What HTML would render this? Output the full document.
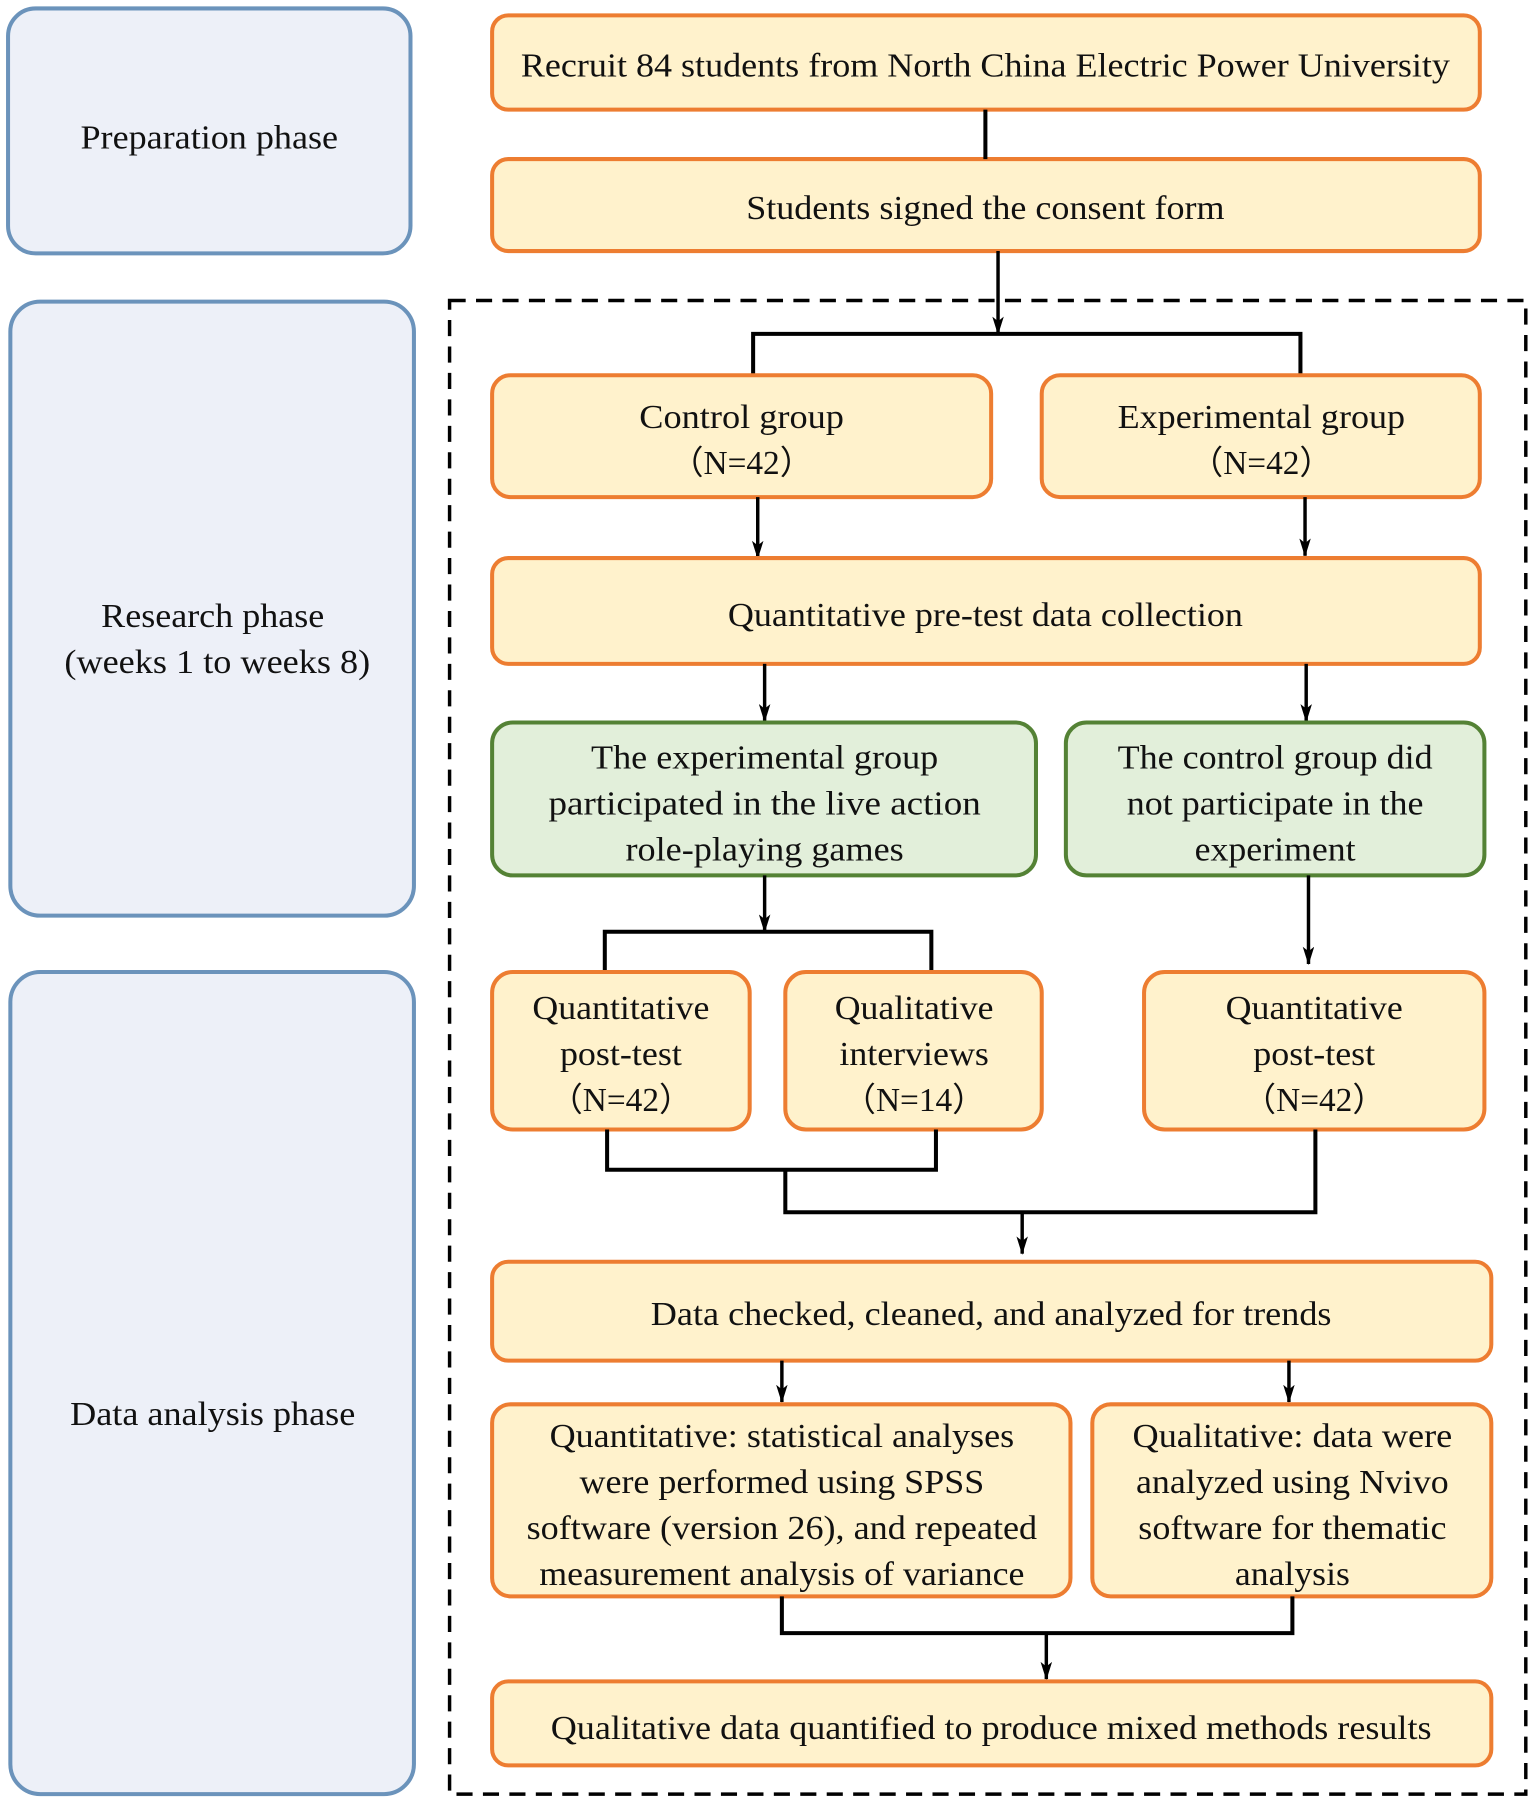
<!DOCTYPE html>
<html><head><meta charset="utf-8"><style>html,body{margin:0;padding:0;background:#fff}svg{display:block}</style></head>
<body>
<svg width="1535" height="1806" viewBox="0 0 1335 1570" xmlns="http://www.w3.org/2000/svg">
<defs><marker id="a" viewBox="0 0 16 10" refX="15" refY="5" markerWidth="16" markerHeight="10" orient="auto" markerUnits="userSpaceOnUse"><path d="M0,0 L16,5 L0,10 L4,5 z" fill="#000"/></marker></defs>
<style>
.p{fill:#edf0f8;stroke:#6b93bb;stroke-width:3.5}
.o{fill:#fff2cc;stroke:#ed7d31;stroke-width:3.5}
.g{fill:#e2efda;stroke:#548235;stroke-width:3.5}
.l{fill:none;stroke:#000;stroke-width:3.5}
.ar{fill:none;stroke:#000;stroke-width:3}
text{font-family:"Liberation Serif",serif;font-size:29px;fill:#111;text-anchor:middle}
</style>
<rect class="p" x="7" y="7" width="350" height="213" rx="24"/>
<rect class="p" x="9" y="262" width="351" height="534" rx="26"/>
<rect class="p" x="9" y="845" width="351" height="715" rx="26"/>
<text x="182" y="129" textLength="224" lengthAdjust="spacingAndGlyphs">Preparation phase</text>
<text x="185" y="545" textLength="194" lengthAdjust="spacingAndGlyphs">Research phase</text>
<text x="189" y="585" textLength="266" lengthAdjust="spacingAndGlyphs">(weeks 1 to weeks 8)</text>
<text x="185" y="1239" textLength="248" lengthAdjust="spacingAndGlyphs">Data analysis phase</text>

<rect x="391" y="261" width="936" height="1299" fill="none" stroke="#000" stroke-width="3" stroke-dasharray="14,9"/>

<rect class="o" x="428" y="13" width="859" height="82" rx="14"/>
<text x="857" y="66" textLength="808" lengthAdjust="spacingAndGlyphs">Recruit 84 students from North China Electric Power University</text>
<rect class="o" x="428" y="138" width="859" height="80" rx="14"/>
<text x="857" y="190" textLength="416" lengthAdjust="spacingAndGlyphs">Students signed the consent form</text>
<line class="l" x1="857" y1="95" x2="857" y2="138"/>
<line class="ar" x1="868" y1="218" x2="868" y2="290" marker-end="url(#a)"/>
<polyline class="l" points="655,326 655,290 1131,290 1131,326"/>

<rect class="o" x="428" y="326" width="434" height="106" rx="16"/>
<text x="645" y="372" textLength="178" lengthAdjust="spacingAndGlyphs">Control group</text>
<text x="645" y="412">（N=42）</text>
<rect class="o" x="906" y="326" width="381" height="106" rx="16"/>
<text x="1097" y="372" textLength="250" lengthAdjust="spacingAndGlyphs">Experimental group</text>
<text x="1097" y="412">（N=42）</text>
<line class="ar" x1="659" y1="432" x2="659" y2="485" marker-end="url(#a)"/>
<line class="ar" x1="1135" y1="432" x2="1135" y2="483" marker-end="url(#a)"/>

<rect class="o" x="428" y="485" width="859" height="92" rx="14"/>
<text x="857" y="544" textLength="448" lengthAdjust="spacingAndGlyphs">Quantitative pre-test data collection</text>
<line class="ar" x1="665" y1="577" x2="665" y2="627" marker-end="url(#a)"/>
<line class="ar" x1="1136" y1="577" x2="1136" y2="627" marker-end="url(#a)"/>

<rect class="g" x="428" y="628" width="473" height="133" rx="18"/>
<text x="665" y="668" textLength="302" lengthAdjust="spacingAndGlyphs">The experimental group</text>
<text x="665" y="708" textLength="376" lengthAdjust="spacingAndGlyphs">participated in  the live action</text>
<text x="665" y="748" textLength="242" lengthAdjust="spacingAndGlyphs">role-playing games</text>
<rect class="g" x="927" y="628" width="364" height="133" rx="18"/>
<text x="1109" y="668" textLength="274" lengthAdjust="spacingAndGlyphs">The control group did</text>
<text x="1109" y="708" textLength="258" lengthAdjust="spacingAndGlyphs">not participate in the</text>
<text x="1109" y="748" textLength="140" lengthAdjust="spacingAndGlyphs">experiment</text>

<line class="ar" x1="665" y1="761" x2="665" y2="810" marker-end="url(#a)"/>
<polyline class="l" points="526,845 526,810 810,810 810,845"/>
<line class="ar" x1="1138" y1="761" x2="1138" y2="838" marker-end="url(#a)"/>

<rect class="o" x="428" y="845" width="224" height="137" rx="18"/>
<text x="540" y="886" textLength="154" lengthAdjust="spacingAndGlyphs">Quantitative</text>
<text x="540" y="926" textLength="106" lengthAdjust="spacingAndGlyphs">post-test</text>
<text x="540" y="966">（N=42）</text>
<rect class="o" x="683" y="845" width="223" height="137" rx="18"/>
<text x="795" y="886" textLength="138" lengthAdjust="spacingAndGlyphs">Qualitative</text>
<text x="795" y="926" textLength="130" lengthAdjust="spacingAndGlyphs">interviews</text>
<text x="795" y="966">（N=14）</text>
<rect class="o" x="995" y="845" width="296" height="137" rx="18"/>
<text x="1143" y="886" textLength="154" lengthAdjust="spacingAndGlyphs">Quantitative</text>
<text x="1143" y="926" textLength="106" lengthAdjust="spacingAndGlyphs">post-test</text>
<text x="1143" y="966">（N=42）</text>

<polyline class="l" points="528,982 528,1017 814,1017 814,982"/>
<polyline class="l" points="683,1017 683,1054 1144,1054 1144,982"/>
<line class="ar" x1="889" y1="1054" x2="889" y2="1090" marker-end="url(#a)"/>

<rect class="o" x="428" y="1097" width="869" height="86" rx="14"/>
<text x="862" y="1152" textLength="592" lengthAdjust="spacingAndGlyphs">Data checked, cleaned, and analyzed for trends</text>
<line class="ar" x1="680" y1="1183" x2="680" y2="1219" marker-end="url(#a)"/>
<line class="ar" x1="1121" y1="1183" x2="1121" y2="1219" marker-end="url(#a)"/>

<rect class="o" x="428" y="1221" width="503" height="167" rx="16"/>
<text x="680" y="1258" textLength="404" lengthAdjust="spacingAndGlyphs">Quantitative: statistical analyses</text>
<text x="680" y="1298" textLength="352" lengthAdjust="spacingAndGlyphs">were performed using SPSS</text>
<text x="680" y="1338" textLength="444" lengthAdjust="spacingAndGlyphs">software (version 26), and repeated</text>
<text x="680" y="1378" textLength="422" lengthAdjust="spacingAndGlyphs">measurement analysis of variance</text>
<rect class="o" x="950" y="1221" width="347" height="167" rx="16"/>
<text x="1124" y="1258" textLength="278" lengthAdjust="spacingAndGlyphs">Qualitative: data were</text>
<text x="1124" y="1298" textLength="272" lengthAdjust="spacingAndGlyphs">analyzed using Nvivo</text>
<text x="1124" y="1338" textLength="268" lengthAdjust="spacingAndGlyphs">software for thematic</text>
<text x="1124" y="1378" textLength="100" lengthAdjust="spacingAndGlyphs">analysis</text>

<polyline class="l" points="680,1388 680,1420 1124,1420 1124,1388"/>
<line class="ar" x1="910" y1="1420" x2="910" y2="1460" marker-end="url(#a)"/>

<rect class="o" x="428" y="1462" width="869" height="73" rx="14"/>
<text x="862" y="1512" textLength="766" lengthAdjust="spacingAndGlyphs">Qualitative data quantified to produce mixed methods results</text>
</svg>
</body></html>
